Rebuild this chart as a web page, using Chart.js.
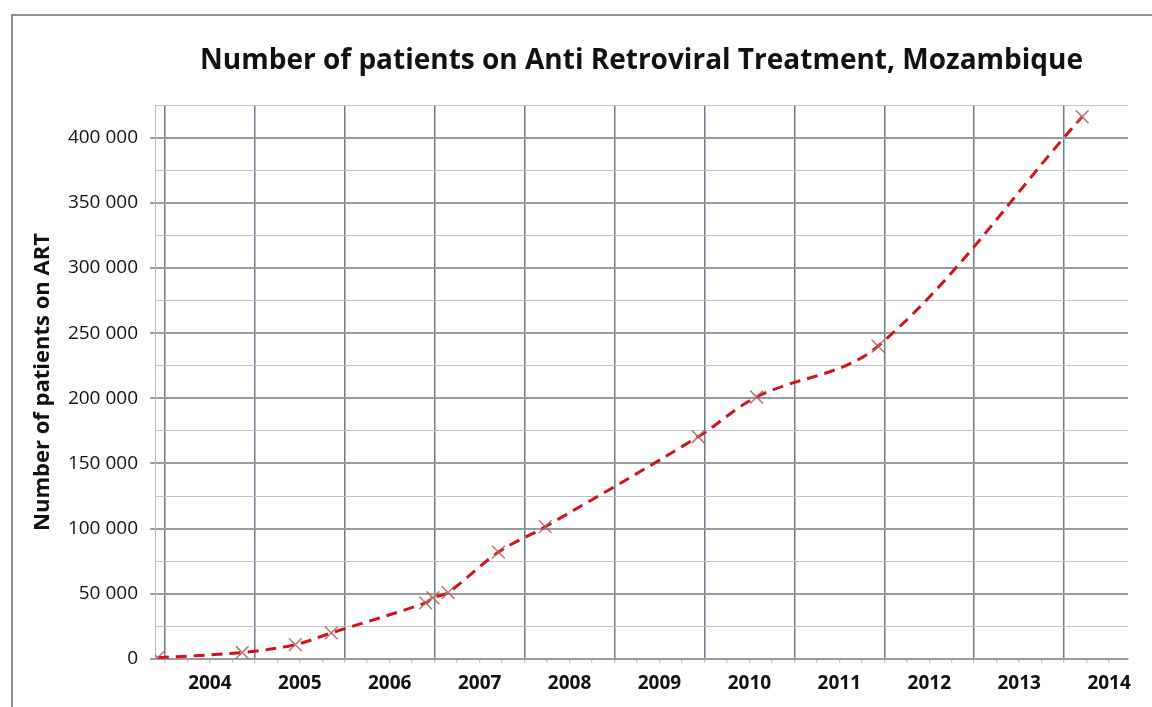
<!DOCTYPE html>
<html>
<head>
<meta charset="utf-8">
<script src="https://cdn.jsdelivr.net/npm/chart.js@4"></script>
<style>
	html, body { margin: 0; padding: 0; background: #fff; overflow: hidden; }
	#frame { position: absolute; left: 11px; top: 14px; width: 1200px; height: 800px; border: 2px solid #8e8e8e; }
	#wrap { position: absolute; left: 0; top: 0; width: 1152px; height: 707px; }
</style>
</head>
<body>
<div id="frame"></div>
<div id="wrap"><canvas id="art-chart"></canvas></div>
<script>
'use strict';

// dates as decimal years
const dates = [2003.92, 2004.86, 2005.45, 2005.85, 2006.90, 2006.98, 2007.15, 2007.71, 2008.23, 2009.93, 2010.58, 2011.93, 2014.20];
const patients = [1000, 5000, 11000, 20000, 43000, 47000, 51000, 82000, 101500, 170500, 201000, 240000, 416000];
const years = [2004, 2005, 2006, 2007, 2008, 2009, 2010, 2011, 2012, 2013, 2014];
const chartTitle = 'Number of patients on Anti Retroviral Treatment, Mozambique';

const xMin = 2003.89;
const xMax = 2014.71;

function withSpaces(v){
	return String(v).replace(/\B(?=(\d{3})+(?!\d))/g, ' ');
}

// quarter ticks: grid on whole years, label in the middle of each year
const quarterTicks = [];
years.forEach(function(y){
	for(let q = 0; q < 4; q++){
		const v = y + q / 4;
		if(v <= xMax) quarterTicks.push({value: v});
	}
});

// title centred over the plot area (excel style) rather than the canvas
const plotTitle = {
	id: 'plotTitle',
	afterDraw(chart){
		const {ctx, chartArea} = chart;
		ctx.save();
		ctx.font = 'bold 28px "Open Sans"';
		ctx.fillStyle = '#111';
		ctx.textAlign = 'center';
		ctx.textBaseline = 'middle';
		ctx.fillText(chartTitle, (chartArea.left + chartArea.right) / 2, 61);
		ctx.restore();
	}
};

const canvas = document.getElementById('art-chart');

new Chart(canvas, {
	type: 'line',
	data: {
		datasets: [{
			label: 'Patients on ART',
			data: dates.map((d, i) => ({x: d, y: patients[i]})),
			borderColor: '#d3131c',
			borderWidth: 3,
			borderDash: [11, 7],
			tension: 0.35,
			pointStyle: 'crossRot',
			pointRadius: 9,
			pointBorderWidth: 1.5,
			pointBorderColor: 'rgba(175,95,95,0.85)',
			pointBackgroundColor: 'transparent'
		}]
	},
	plugins: [plotTitle],
	options: {
		responsive: true,
		maintainAspectRatio: false,
		animation: false,
		layout: {padding: {left: 0, right: 24, top: 105, bottom: 0}},
		plugins: {
			legend: {display: false},
			tooltip: {enabled: false},
			title: {display: false}
		},
		scales: {
			x: {
				type: 'linear',
				min: xMin,
				max: xMax,
				afterBuildTicks: function(scale){
					scale.ticks = quarterTicks.slice();
				},
				afterFit: function(scale){
					scale.height = 48;
				},
				border: {display: true, color: '#9a9a9a', width: 1.5},
				grid: {
					color: ctx => Number.isInteger(ctx.tick && ctx.tick.value) ? '#6c7b8b' : 'transparent',
					lineWidth: 1.5,
					tickColor: '#b5b5b5',
					tickLength: 4,
					tickWidth: 1
				},
				ticks: {
					autoSkip: false,
					maxRotation: 0,
					padding: 9,
					color: '#111',
					font: {family: 'Open Sans', size: 19, weight: 'bold'},
					callback: function(value){
						const y = value - 0.5;
						return years.includes(y) ? String(y) : '';
					}
				}
			},
			y: {
				min: 0,
				max: 425000,
				afterFit: function(scale){
					scale.width = 155;
				},
				border: {display: true, color: '#b8b8b8', width: 1},
				grid: {
					color: ctx => (ctx.tick && ctx.tick.value % 50000 === 0) ? '#9c9c9c' : '#c4c4c4',
					lineWidth: ctx => (ctx.tick && ctx.tick.value % 50000 === 0) ? 2 : 1,
					tickColor: ctx => (ctx.tick && ctx.tick.value % 50000 === 0) ? '#9c9c9c' : 'transparent',
					tickLength: 5
				},
				ticks: {
					stepSize: 25000,
					autoSkip: false,
					padding: 12,
					color: '#111',
					font: {family: 'Open Sans', size: 19},
					callback: v => v % 50000 === 0 ? withSpaces(v) : ''
				},
				title: {
					display: true,
					text: 'Number of patients on ART',
					color: '#111',
					font: {family: 'Open Sans', size: 22, weight: 'bold'},
					padding: {top: 30, bottom: 4}
				}
			}
		}
	}
});
</script>
</body>
</html>
